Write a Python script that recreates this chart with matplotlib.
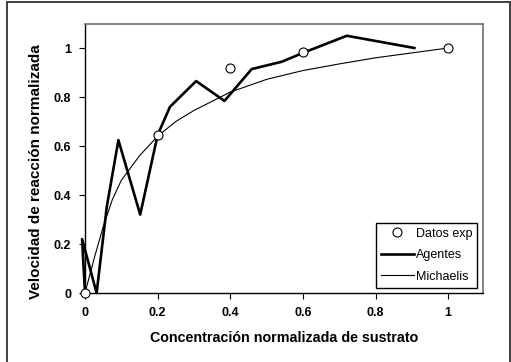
import numpy as np
import matplotlib.pyplot as plt
from matplotlib.patches import Rectangle

plt.rcParams['font.family'] = ['Liberation Sans', 'DejaVu Sans']

# experimental data
exp_x = [0, 0.2, 0.4, 0.6, 1.0]
exp_y = [0, 0.645, 0.92, 0.985, 1.0]

# agent-based simulation
agent_x = [0, -0.008, 0.032, 0.06, 0.092, 0.152, 0.2, 0.234, 0.306, 0.384, 0.459, 0.542, 0.6, 0.721, 0.907]
agent_y = [0, 0.22, 0.0, 0.352, 0.624, 0.32, 0.645, 0.76, 0.865, 0.784, 0.914, 0.944, 0.98, 1.05, 1.0]

# Michaelis-Menten curve
mm_x = [0, 0.025, 0.05, 0.075, 0.1, 0.15, 0.2, 0.25, 0.3, 0.4, 0.5, 0.6, 0.7, 0.8, 0.9, 1.0]
mm_y = [0, 0.14, 0.27, 0.38, 0.46, 0.56, 0.64, 0.70, 0.745, 0.82, 0.872, 0.908, 0.935, 0.96, 0.98, 1.0]

fig = plt.figure(figsize=(5.11, 3.62), dpi=100)
ax = fig.add_axes([85/511, 69/362, 398/511, 269/362])

ax.plot(mm_x, mm_y, color='black', lw=0.8, label='Michaelis', zorder=2)
ax.plot(agent_x, agent_y, color='black', lw=1.9, label='Agentes', zorder=3, clip_on=False)
ax.plot(exp_x, exp_y, 'o', ms=6.5, mfc='white', mec='black', mew=0.8,
        label='Datos exp', zorder=4, clip_on=False)

ax.set_xlim(0, 1.096)
ax.set_ylim(0, 1.098)
ax.set_xticks([0, 0.2, 0.4, 0.6, 0.8, 1])
ax.set_xticklabels(['0', '0.2', '0.4', '0.6', '0.8', '1'])
ax.set_yticks([0, 0.2, 0.4, 0.6, 0.8, 1])
ax.set_yticklabels(['0', '0.2', '0.4', '0.6', '0.8', '1'])
ax.tick_params(direction='out', length=4, width=0.8, labelsize=9, pad=6)
for lab in ax.get_xticklabels() + ax.get_yticklabels():
    lab.set_fontweight('bold')

for side in ['left', 'bottom']:
    ax.spines[side].set_color('black')
    ax.spines[side].set_linewidth(1.0)
for side in ['top', 'right']:
    ax.spines[side].set_color('#707070')
    ax.spines[side].set_linewidth(1.2)

ax.set_xlabel('Concentración normalizada de sustrato', fontsize=10.3, fontweight='bold', labelpad=9)
ax.set_ylabel('Velocidad de reacción normalizada', fontsize=11, fontweight='bold')
ax.yaxis.set_label_coords(-0.105, 0.45)

handles, labels = ax.get_legend_handles_labels()
order = [2, 1, 0]
leg = ax.legend([handles[i] for i in order], [labels[i] for i in order],
                loc='lower right', bbox_to_anchor=(0.985, 0.02), fontsize=9,
                frameon=True, fancybox=False, edgecolor='black', framealpha=1,
                handlelength=2.7, handletextpad=0.1, borderpad=0.4,
                labelspacing=0.75, borderaxespad=0)
leg.get_frame().set_linewidth(1.0)

# outer frame around the figure
fig.add_artist(Rectangle((6.5/511, -0.05), 503/511, 1.05 - 1.5/362,
                         transform=fig.transFigure, fill=False,
                         edgecolor='#303030', lw=1.3))

fig.savefig('out.png', dpi=100)
